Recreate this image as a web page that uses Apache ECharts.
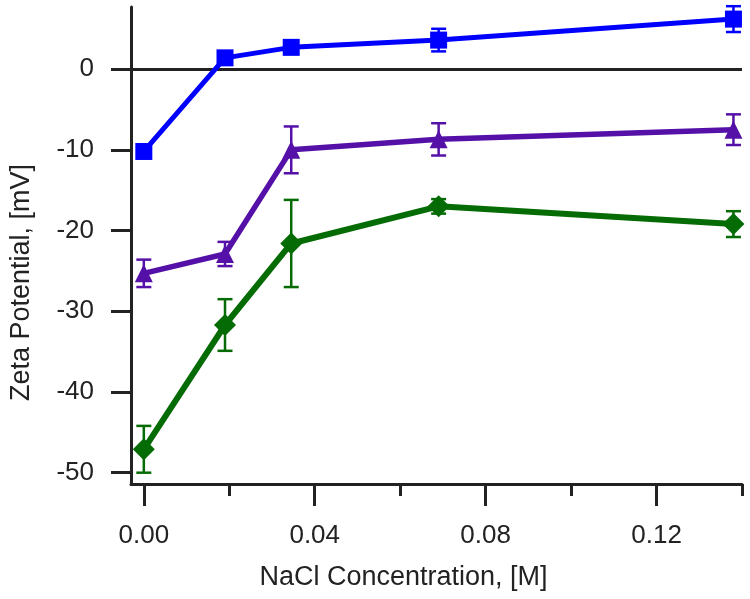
<!DOCTYPE html>
<html>
<head>
<meta charset="utf-8">
<script src="https://cdn.jsdelivr.net/npm/echarts@6/dist/echarts.min.js"></script>
<style>html,body{margin:0;padding:0;background:#fff}#c{width:750px;height:599px}</style>
</head>
<body>
<div id="c"></div>
<script>
// NaCl concentration [M]
const concentrations = [0, 0.019, 0.0345, 0.069, 0.138];
// Zeta potential [mV]
const blueValues   = [-10.2, 1.4, 2.7, 3.6, 6.2];
const blueErrors   = [0.5, 0.6, 0.7, 1.4, 1.6];
const purpleValues = [-25.3, -22.9, -10.0, -8.7, -7.5];
const purpleErrors = [1.7, 1.5, 2.9, 2.0, 1.9];
const greenValues  = [-47.1, -31.7, -21.6, -17.0, -19.2];
const greenErrors  = [2.9, 3.2, 5.4, 0.9, 1.6];
const xTickValues = [0, 0.04, 0.08, 0.12];
const xMinorTickValues = [0.02, 0.06, 0.10, 0.14];
const yTickValues = [-50, -40, -30, -20, -10, 0];

const FONT = 'Liberation Sans, Arial, Helvetica, sans-serif';
const AXIS = '#222';
const BLUE = '#0000ff', PURPLE = '#5510a8', GREEN = '#056b05';

function pairs(vals){ return concentrations.map((x,i)=>[x, vals[i]]); }
function errData(vals, errs){ return concentrations.map((x,i)=>[x, vals[i]-errs[i], vals[i]+errs[i]]); }
function errSeries(vals, errs, color){
  return {
    type:'custom', data: errData(vals, errs), z: 4, silent:true,
    encode:{x:0, y:[1,2]},
    renderItem:function(params, api){
      const x = api.value(0), lo = api.value(1), hi = api.value(2);
      const pt = api.coord([x, hi]), pb = api.coord([x, lo]);
      const w = 7.5;
      const st = {stroke: color, lineWidth: 2.5};
      return {type:'group', children:[
        {type:'line', shape:{x1:pt[0], y1:pt[1], x2:pb[0], y2:pb[1]}, style:st},
        {type:'line', shape:{x1:pt[0]-w, y1:pt[1], x2:pt[0]+w, y2:pt[1]}, style:st},
        {type:'line', shape:{x1:pb[0]-w, y1:pb[1], x2:pb[0]+w, y2:pb[1]}, style:st}
      ]};
    }
  };
}
function lineSeries(vals, color, symbol, size, width){
  return {
    type:'line', data: pairs(vals), symbol: symbol, symbolSize: size, showSymbol:true,
    lineStyle:{color: color, width: width}, itemStyle:{color: color, borderWidth:0},
    z: 3, animation:false
  };
}

const chart = echarts.init(document.getElementById('c'), null, {renderer:'canvas'});
chart.setOption({
  animation:false,
  grid:{left:128, right:8, top:7, bottom:115, containLabel:false},
  xAxis:[{
    type:'value', min:-0.003, max:0.14, position:'bottom',
    name:'NaCl Concentration, [M]', nameLocation:'middle', nameGap:80,
    nameTextStyle:{fontFamily:FONT, fontSize:27, color:AXIS, padding:[0,66,0,0]},
    axisLine:{show:true, onZero:false, lineStyle:{color:AXIS, width:3}},
    axisTick:{show:true, length:22, lineStyle:{color:AXIS, width:3}, customValues:xTickValues},
    axisLabel:{show:true, margin:39, fontFamily:FONT, fontSize:26, color:AXIS,
      customValues:xTickValues, formatter:v=>v.toFixed(2)},
    splitLine:{show:false}
  },{
    type:'value', min:-0.003, max:0.14, position:'bottom',
    axisLine:{show:false, onZero:false},
    axisTick:{show:true, length:12, lineStyle:{color:AXIS, width:3}, customValues:xMinorTickValues},
    axisLabel:{show:false}, splitLine:{show:false}
  }],
  yAxis:{
    type:'value', min:-51.4, max:7.7,
    name:'Zeta Potential, [mV]', nameLocation:'middle', nameGap:96, nameRotate:90,
    nameTextStyle:{fontFamily:FONT, fontSize:27, color:AXIS, padding:[0,74,0,0]},
    axisLine:{show:true, onZero:false, lineStyle:{color:AXIS, width:3}},
    axisTick:{show:true, length:20, lineStyle:{color:AXIS, width:3}, customValues:yTickValues},
    axisLabel:{show:true, margin:37, fontFamily:FONT, fontSize:26, color:AXIS, customValues:yTickValues},
    splitLine:{show:false}
  },
  series:[
    Object.assign(lineSeries(greenValues, GREEN, 'diamond', 22, 6), {
      markLine:{silent:true, symbol:'none', label:{show:false},
        lineStyle:{color:AXIS, width:3, type:'solid'}, data:[{yAxis:0}], z:1}
    }),
    errSeries(greenValues, greenErrors, GREEN),
    lineSeries(purpleValues, PURPLE, 'triangle', 18, 5.5),
    errSeries(purpleValues, purpleErrors, PURPLE),
    lineSeries(blueValues, BLUE, 'rect', 17, 5),
    errSeries(blueValues, blueErrors, BLUE)
  ]
});
</script>
</body>
</html>
